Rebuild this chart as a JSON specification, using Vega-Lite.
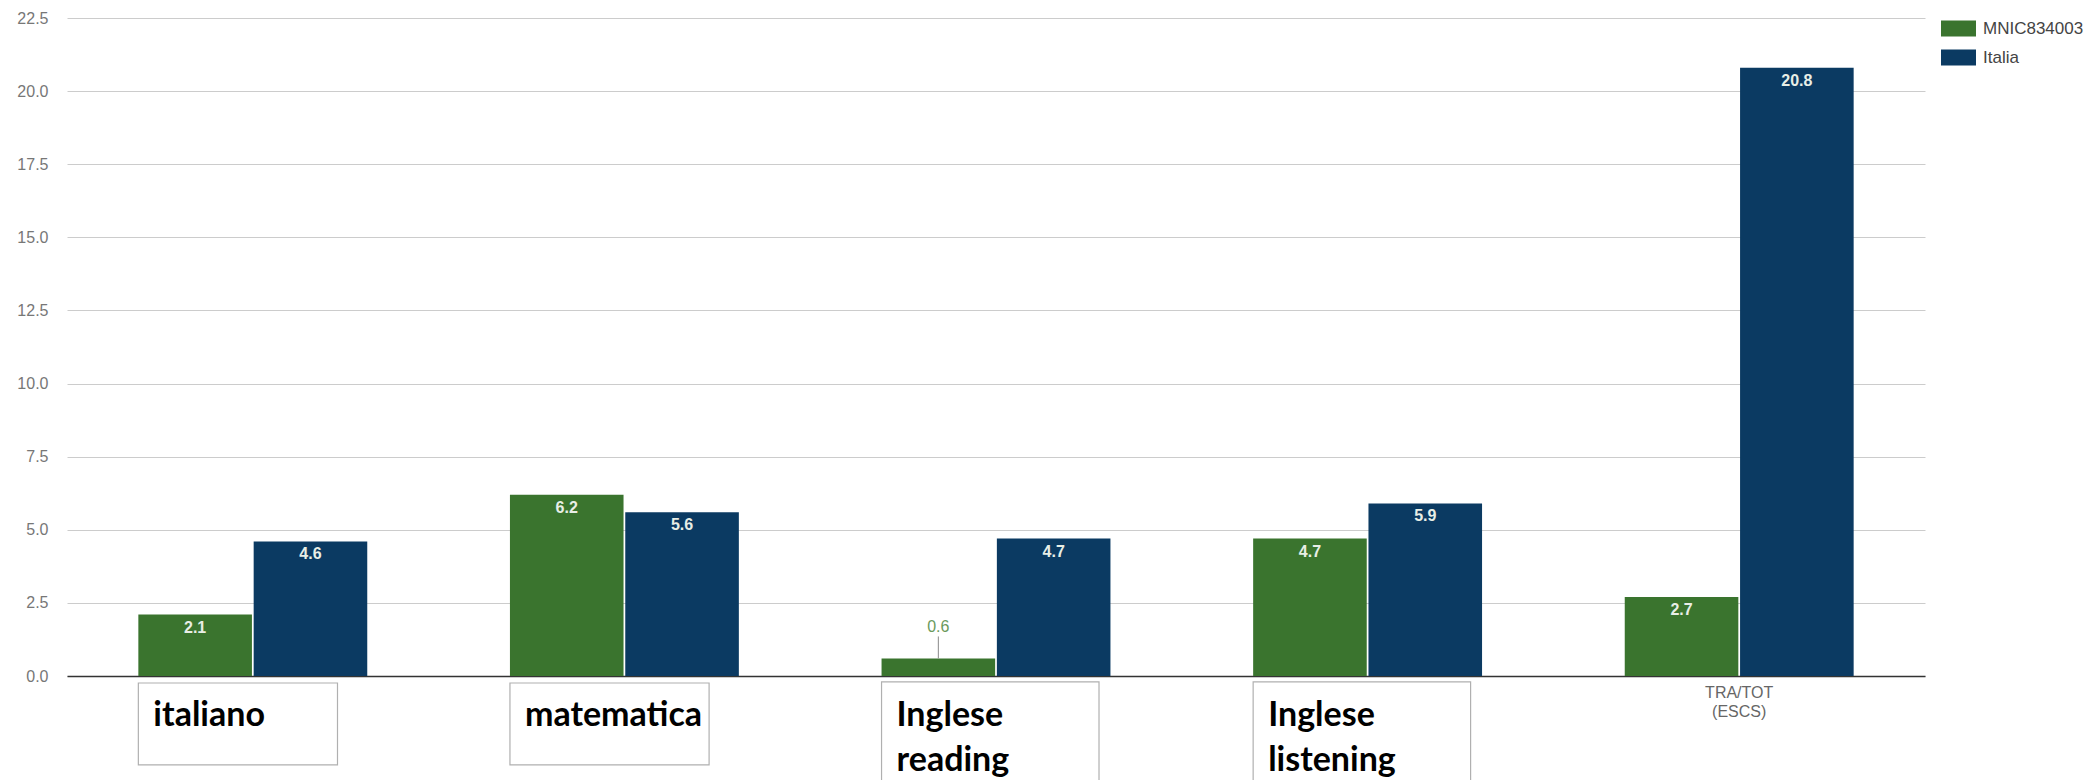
{
  "$schema": "https://vega.github.io/schema/vega-lite/v6.json",
  "width": 1858,
  "height": 658,
  "autosize": "none",
  "padding": {"left": 67, "top": 18, "right": 162, "bottom": 104},
  "background": "white",
  "config": {"view": {"stroke": null}, "font": "Liberation Sans"},
  "datasets": {
    "bars": [
      {"cat": "TRA/TOT\n(Italiano)", "series": "MNIC834003", "value": 2.1},
      {"cat": "TRA/TOT\n(Italiano)", "series": "Italia", "value": 4.6},
      {"cat": "TRA/TOT\n(Matematica)", "series": "MNIC834003", "value": 6.2},
      {"cat": "TRA/TOT\n(Matematica)", "series": "Italia", "value": 5.6},
      {"cat": "TRA/TOT\n(Inglese Reading)", "series": "MNIC834003", "value": 0.6},
      {"cat": "TRA/TOT\n(Inglese Reading)", "series": "Italia", "value": 4.7},
      {"cat": "TRA/TOT\n(Inglese Listening)", "series": "MNIC834003", "value": 4.7},
      {"cat": "TRA/TOT\n(Inglese Listening)", "series": "Italia", "value": 5.9},
      {"cat": "TRA/TOT\n(ESCS)", "series": "MNIC834003", "value": 2.7},
      {"cat": "TRA/TOT\n(ESCS)", "series": "Italia", "value": 20.8}
    ],
    "boxes": [
      {"cat": "TRA/TOT\n(Italiano)", "label": "italiano"},
      {"cat": "TRA/TOT\n(Matematica)", "label": "matematica"},
      {"cat": "TRA/TOT\n(Inglese Reading)", "label": "Inglese\nreading"},
      {"cat": "TRA/TOT\n(Inglese Listening)", "label": "Inglese\nlistening"}
    ]
  },
  "layer": [
    {
      "data": {"name": "bars"},
      "mark": {"type": "bar"},
      "encoding": {
        "x": {
          "field": "cat", "type": "nominal", "title": null,
          "scale": {
            "domain": ["TRA/TOT\n(Italiano)", "TRA/TOT\n(Matematica)", "TRA/TOT\n(Inglese Reading)", "TRA/TOT\n(Inglese Listening)", "TRA/TOT\n(ESCS)"],
            "paddingInner": 0.384, "paddingOuter": 0.192
          },
          "axis": {
            "labelAngle": 0, "ticks": false, "tickSize": 0, "grid": false,
            "domainColor": "#333333", "domainWidth": 1.5,
            "labelPadding": 8, "labelFontSize": 16, "labelColor": "#666666",
            "labelLineHeight": 19, "labelLimit": 0,
            "labelExpr": "indexof(datum.label, 'ESCS') >= 0 ? split(datum.label, '\\n') : ''"
          }
        },
        "xOffset": {
          "field": "series", "type": "nominal",
          "scale": {"domain": ["MNIC834003", "Italia"], "paddingInner": 0.015}
        },
        "y": {
          "field": "value", "type": "quantitative", "title": null,
          "scale": {"domain": [0, 22.5], "nice": false, "zero": false},
          "axis": {
            "values": [0, 2.5, 5, 7.5, 10, 12.5, 15, 17.5, 20, 22.5],
            "format": ".1f", "domain": false, "ticks": false, "tickSize": 0,
            "labelPadding": 19, "labelFontSize": 16, "labelColor": "#777777",
            "gridColor": "#cccccc", "gridWidth": 1
          }
        },
        "color": {
          "field": "series", "type": "nominal",
          "scale": {"domain": ["MNIC834003", "Italia"], "range": ["#3a742e", "#0b3a62"]},
          "legend": {
            "title": null, "orient": "none", "legendX": 1874, "legendY": -7, "padding": 0,
            "symbolType": "M-1,-0.46H1V0.46H-1Z", "symbolSize": 1225,
            "symbolStrokeWidth": 0, "symbolOpacity": 1,
            "labelFontSize": 17, "labelColor": "#444444", "labelOffset": 7,
            "rowPadding": 3
          }
        }
      }
    },
    {
      "data": {"name": "bars"},
      "transform": [{"filter": "datum.value >= 1"}],
      "mark": {
        "type": "text", "baseline": "alphabetic", "dy": 18,
        "font": "Liberation Sans Narrow, Arial Narrow, Liberation Sans",
        "fontSize": 16, "fontWeight": "bold", "fill": "#e8eee6"
      },
      "encoding": {
        "x": {"field": "cat", "type": "nominal"},
        "xOffset": {"field": "series", "type": "nominal"},
        "y": {"field": "value", "type": "quantitative"},
        "text": {"field": "value", "type": "quantitative", "format": ".1f"}
      }
    },
    {
      "data": {"name": "bars"},
      "transform": [{"filter": "datum.value < 1"}],
      "mark": {
        "type": "text", "baseline": "alphabetic", "dy": -26,
        "font": "Liberation Sans Narrow, Arial Narrow, Liberation Sans",
        "fontSize": 16, "fill": "#6a9a5c"
      },
      "encoding": {
        "x": {"field": "cat", "type": "nominal"},
        "xOffset": {"field": "series", "type": "nominal"},
        "y": {"field": "value", "type": "quantitative"},
        "text": {"field": "value", "type": "quantitative", "format": ".1f"}
      }
    },
    {
      "data": {"name": "bars"},
      "transform": [{"filter": "datum.value < 1"}],
      "mark": {"type": "rule", "color": "#888888", "strokeWidth": 1, "y2Offset": -22},
      "encoding": {
        "x": {"field": "cat", "type": "nominal"},
        "xOffset": {"field": "series", "type": "nominal"},
        "y": {"field": "value", "type": "quantitative"},
        "y2": {"field": "value"}
      }
    },
    {
      "data": {"name": "boxes"},
      "transform": [{"filter": "indexof(datum.label, '\\n') < 0"}],
      "mark": {"type": "rect", "fill": "white", "stroke": "#b0b0b0", "strokeWidth": 1.2},
      "encoding": {
        "x": {"field": "cat", "type": "nominal", "bandPosition": 0},
        "x2": {"field": "cat", "bandPosition": 0.87},
        "y": {"datum": -0.24, "type": "quantitative"},
        "y2": {"datum": -3.04}
      }
    },
    {
      "data": {"name": "boxes"},
      "transform": [{"filter": "indexof(datum.label, '\\n') >= 0"}],
      "mark": {"type": "rect", "fill": "white", "stroke": "#b0b0b0", "strokeWidth": 1.2},
      "encoding": {
        "x": {"field": "cat", "type": "nominal", "bandPosition": 0},
        "x2": {"field": "cat", "bandPosition": 0.95},
        "y": {"datum": -0.2, "type": "quantitative"},
        "y2": {"datum": -4.0}
      }
    },
    {
      "data": {"name": "boxes"},
      "mark": {
        "type": "text", "align": "left", "baseline": "alphabetic", "dx": 15,
        "font": "Lato", "fontWeight": "bold", "fontSize": 34,
        "lineHeight": 45, "lineBreak": "\n", "fill": "#000000"
      },
      "encoding": {
        "x": {"field": "cat", "type": "nominal", "bandPosition": 0},
        "y": {"datum": -1.71, "type": "quantitative"},
        "text": {"field": "label"}
      }
    }
  ]
}
